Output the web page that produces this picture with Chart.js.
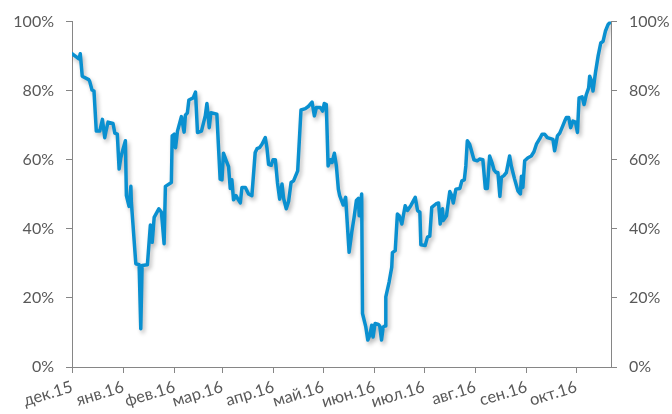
<!DOCTYPE html>
<html>
<head>
<meta charset="utf-8">
<script src="https://cdn.jsdelivr.net/npm/chart.js@4/dist/chart.umd.min.js"></script>
<style>
  html, body { margin: 0; padding: 0; background: #ffffff; }
  #wrap { width: 672px; height: 414px; }
</style>
</head>
<body>
<div id="wrap"><canvas id="chart" width="672" height="414"></canvas></div>
<script>
// Month tick labels and their day offsets counted from 1 Dec 2015
const monthLabels = ['дек.15', 'янв.16', 'фев.16', 'мар.16', 'апр.16', 'май.16', 'июн.16', 'июл.16', 'авг.16', 'сен.16', 'окт.16'];
const monthStarts = [0, 31, 62, 91, 122, 152, 183, 213, 244, 275, 305];

// Series: day offset (from 1 Dec 2015) and level in %
const dayOffset = [
  0, 2.6, 4.2, 5.0, 6.2, 10.1, 10.7, 12.1, 13.3, 14.7, 16.8, 18.4, 19.8, 20.4, 21.8, 24.8, 25.9, 27.4, 28.5, 29.5,
  30.9, 32.3, 32.9, 34.5, 35.6, 35.9, 38.6, 40.6, 41.6, 42.4, 45.6, 47.4, 48.5, 49.7, 52.5, 54.1, 55.7, 56.5, 60.1, 60.6,
  61.8, 62.6, 63.8, 66.2, 67.8, 68.6, 69.8, 70.7, 73.3, 74.7, 75.9, 78.3, 80.6, 81.6, 83.0, 84.0, 87.6, 89.6, 90.7, 91.6,
  93.7, 94.7, 95.7, 96.7, 97.7, 99.2, 100.1, 101.8, 102.8, 104.8, 106.8, 108.8, 110.8, 111.9, 113.4, 114.9, 116.9, 117.9, 118.9, 120.5,
  121.6, 123.0, 124.3, 125.6, 127.0, 128.0, 129.6, 131.0, 132.5, 134.0, 136.5, 138.5, 141.1, 143.1, 145.2, 146.6, 147.8, 150.2, 151.6, 152.6,
  153.8, 154.9, 156.3, 157.3, 158.7, 159.9, 161.1, 161.9, 164.0, 165.5, 167.6, 169.2, 170.6, 172.0, 173.2, 173.7, 175.2, 175.7, 177.7, 178.9,
  180.1, 181.3, 182.1, 183.3, 185.3, 186.1, 187.2, 188.2, 189.4, 189.8, 191.8, 193.4, 193.8, 195.5, 196.8, 197.9, 199.5, 201.5, 202.9, 204.9,
  207.6, 209.0, 210.4, 211.0, 213.6, 215.0, 216.4, 217.6, 220.1, 221.7, 222.7, 224.1, 224.5, 226.5, 228.5, 229.7, 230.6, 232.2, 234.6, 235.8,
  237.3, 238.2, 239.1, 240.5, 241.9, 243.1, 245.1, 246.5, 248.5, 250.0, 251.2, 252.6, 254.0, 255.2, 256.6, 257.6, 258.8, 259.7, 261.2, 262.7,
  264.7, 265.7, 267.7, 269.7, 271.2, 271.8, 272.7, 273.8, 275.8, 277.8, 279.4, 280.9, 282.9, 284.3, 285.9, 287.5, 289.5, 290.9, 291.9, 293.6,
  295.0, 296.4, 298.0, 299.0, 300.4, 301.6, 303.0, 304.5, 305.7, 306.7, 308.5, 309.7, 311.1, 312.5, 313.1, 314.2, 315.1, 316.6, 318.2, 319.8,
  321.2, 322.6, 324.2, 325.8
];
const share = [
  90.7, 89.8, 89.2, 90.7, 84.2, 83.2, 82.7, 80.2, 79.9, 68.3, 68.3, 71.7, 66.4, 67.9, 70.9, 70.5, 67.7, 67.4, 57.3, 60.6,
  63.1, 65.5, 49.6, 46.5, 52.3, 47.7, 29.9, 29.6, 11.1, 29.4, 29.6, 41.1, 36.1, 43.3, 45.8, 44.8, 35.7, 52.3, 53.4, 66.9,
  67.4, 63.5, 68.3, 72.5, 68.0, 72.9, 73.6, 77.3, 77.9, 79.6, 67.9, 68.3, 72.7, 76.3, 69.3, 73.6, 73.2, 54.4, 54.2, 61.9,
  59.2, 58.0, 51.7, 54.2, 48.4, 49.6, 48.8, 47.5, 52.0, 52.0, 50.1, 49.6, 62.1, 63.2, 63.5, 64.5, 66.4, 63.5, 58.7, 58.4,
  60.0, 60.0, 53.3, 48.6, 53.0, 48.8, 45.8, 47.9, 53.4, 53.9, 56.8, 74.4, 74.8, 75.5, 76.7, 72.7, 75.1, 75.1, 74.1, 76.3,
  76.0, 58.2, 60.0, 59.2, 61.9, 58.2, 51.5, 49.6, 46.9, 49.1, 33.2, 39.0, 43.3, 48.2, 48.8, 43.8, 50.1, 15.5, 11.6, 7.8,
  9.2, 12.1, 8.7, 12.6, 12.3, 11.9, 7.8, 11.6, 11.9, 20.3, 24.6, 28.9, 33.1, 33.7, 44.3, 43.8, 41.4, 46.7, 45.3, 46.7,
  49.1, 45.3, 44.8, 35.4, 35.2, 37.6, 37.9, 46.2, 47.2, 47.5, 41.4, 45.8, 42.4, 43.8, 50.8, 49.6, 47.5, 51.5, 51.7, 53.9,
  54.2, 58.2, 65.5, 64.5, 62.1, 60.0, 59.7, 60.2, 60.0, 51.7, 51.7, 61.1, 59.2, 57.1, 56.3, 56.3, 49.4, 54.9, 55.4, 56.3,
  61.1, 58.2, 54.4, 51.0, 50.1, 55.2, 52.0, 59.7, 60.6, 61.1, 62.3, 64.5, 66.1, 67.4, 67.4, 66.4, 66.1, 65.9, 62.6, 66.9,
  67.7, 69.3, 71.2, 72.2, 72.2, 69.3, 71.2, 70.9, 67.9, 77.9, 78.2, 76.0, 78.9, 80.8, 84.2, 82.8, 79.9, 85.2, 90.0, 93.8,
  94.3, 97.2, 99.1, 100.0
];

const axisGrey = '#868686';
const textGrey = '#595959';
const lineBlue = '#0a90d0';

// Soft drop shadow under the line
const lineShadow = {
  id: 'lineShadow',
  beforeDatasetDraw(chart) {
    const ctx = chart.ctx;
    ctx.save();
    ctx.shadowColor = 'rgba(0,0,0,0.28)';
    ctx.shadowBlur = 4;
    ctx.shadowOffsetX = 2;
    ctx.shadowOffsetY = 3;
  },
  afterDatasetDraw(chart) {
    chart.ctx.restore();
  }
};

const yAxisCommon = {
  min: 0,
  max: 100,
  grid: { display: true, drawOnChartArea: false, drawTicks: true, tickLength: 6, color: axisGrey },
  border: { display: true, color: axisGrey, width: 1 },
  ticks: {
    stepSize: 20,
    padding: 12,
    color: textGrey,
    font: { family: 'Lato', size: 16 },
    callback: v => v + '%'
  }
};

new Chart(document.getElementById('chart'), {
  type: 'line',
  data: {
    datasets: [{
      data: dayOffset.map((d, i) => ({ x: d, y: share[i] })),
      borderColor: lineBlue,
      borderWidth: 3.5,
      pointRadius: 0,
      tension: 0,
      borderJoinStyle: 'round',
      borderCapStyle: 'round',
      fill: false,
      yAxisID: 'y'
    }]
  },
  options: {
    responsive: false,
    animation: false,
    devicePixelRatio: 1,
    layout: { padding: { top: 20, right: 0, bottom: 0, left: 0 } },
    plugins: { legend: { display: false }, tooltip: { enabled: false } },
    scales: {
      x: {
        type: 'linear',
        min: 0,
        max: 326,
        grid: { display: true, drawOnChartArea: false, drawTicks: true, tickLength: 6, color: axisGrey },
        border: { display: true, color: axisGrey, width: 1 },
        afterBuildTicks: axis => { axis.ticks = monthStarts.map(v => ({ value: v })); },
        afterFit: axis => { axis.height = 47; },
        ticks: {
          autoSkip: false,
          maxRotation: 17,
          minRotation: 17,
          padding: 4,
          color: textGrey,
          font: { family: 'Lato', size: 16.5 },
          callback: (v, i) => monthLabels[i]
        }
      },
      y: Object.assign({}, yAxisCommon, {
        position: 'left',
        afterFit: axis => { axis.width = 72; }
      }),
      y2: Object.assign({}, yAxisCommon, {
        position: 'right',
        afterFit: axis => { axis.width = 61; }
      })
    }
  },
  plugins: [lineShadow]
});
</script>
</body>
</html>
